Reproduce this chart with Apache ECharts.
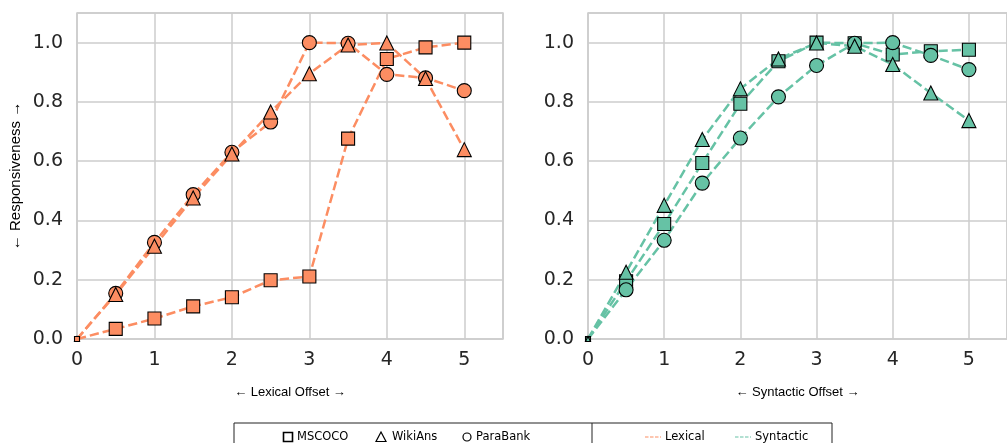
<!DOCTYPE html>
<html>
<head>
<meta charset="utf-8">
<script src="https://cdn.jsdelivr.net/npm/echarts@6/dist/echarts.min.js"></script>
<style>
html,body{margin:0;padding:0;background:#fff;}
#chart{width:1007px;height:443px;}
</style>
</head>
<body>
<div id="chart"></div>
<script>
// ---- data ----
const offsets = [0, 0.5, 1, 1.5, 2, 2.5, 3, 3.5, 4, 4.5, 5];
const datasets = ['MSCOCO', 'WikiAns', 'ParaBank'];
const yTicks = [0, 0.2, 0.4, 0.6, 0.8, 1.0];
const xTicks = [0, 1, 2, 3, 4, 5];

// Lexical offset responsiveness
const lexMSCOCO   = [0, 0.034, 0.069, 0.110, 0.141, 0.198, 0.211, 0.676, 0.945, 0.984, 1.0];
const lexWikiAns  = [0, 0.150, 0.313, 0.476, 0.624, 0.766, 0.895, 0.992, 0.999, 0.879, 0.639];
const lexParaBank = [0, 0.154, 0.326, 0.487, 0.630, 0.732, 1.0, 0.998, 0.893, 0.881, 0.838];

// Syntactic offset responsiveness
const synMSCOCO   = [0, 0.195, 0.388, 0.594, 0.794, 0.937, 1.0, 0.998, 0.960, 0.971, 0.976];
const synWikiAns  = [0, 0.225, 0.451, 0.673, 0.844, 0.945, 0.999, 0.988, 0.926, 0.830, 0.737];
const synParaBank = [0, 0.166, 0.333, 0.526, 0.678, 0.817, 0.923, 0.998, 1.0, 0.957, 0.909];

// ---- styling ----
const ORANGE = '#fc8d62';
const GREEN = '#66c2a5';
const GRIDC = '#cccccc';
const TXT = '#262626';
const symbols = { MSCOCO: 'rect', WikiAns: 'triangle', ParaBank: 'circle' };
const sizes = { MSCOCO: 13, WikiAns: 14, ParaBank: 14 };

function mk(name, values, color, axisIdx) {
  return {
    name: name,
    type: 'line',
    xAxisIndex: axisIdx,
    yAxisIndex: axisIdx,
    data: offsets.map((x, i) => [x, values[i]]),
    symbol: symbols[name],
    symbolSize: (v, p) => p.dataIndex === 0 ? 5 : sizes[name],
    showAllSymbol: true,
    clip: true,
    lineStyle: { color: color, width: 2.5, type: [9.25, 4] },
    itemStyle: { color: color, borderColor: '#000', borderWidth: 1.1, opacity: 1 },
    emphasis: { disabled: true },
    animation: false
  };
}

function xAxisCfg(gi, name) {
  return {
    gridIndex: gi, type: 'value', min: 0, max: 5.5, interval: 1,
    name: name, nameLocation: 'middle', nameGap: 47,
    nameTextStyle: { fontFamily: 'Liberation Sans', fontSize: 13, color: '#000' },
    axisLine: { show: false }, axisTick: { show: false },
    axisLabel: { fontFamily: 'DejaVu Sans', fontSize: 19, color: TXT, margin: 12, showMaxLabel: false,
                 formatter: v => String(v) },
    splitLine: { show: true, lineStyle: { color: GRIDC, width: 1.5 } }
  };
}
function yAxisCfg(gi, name) {
  return {
    gridIndex: gi, type: 'value', min: 0, max: 1.1, interval: 0.2,
    name: name, nameLocation: 'middle', nameGap: 54,
    nameTextStyle: { fontFamily: 'Liberation Sans', fontSize: 15, color: '#000' },
    axisLine: { show: false }, axisTick: { show: false },
    axisLabel: { fontFamily: 'DejaVu Sans', fontSize: 19, color: TXT, margin: 14, showMaxLabel: false,
                 formatter: v => v.toFixed(1) },
    splitLine: { show: true, lineStyle: { color: GRIDC, width: 1.5 } }
  };
}

// legend built from graphic elements
const LY = 437;
const legend = [
  { type: 'rect', shape: { x: 234, y: 423, width: 598, height: 30 }, style: { fill: '#fff', stroke: '#222', lineWidth: 1 } },
  { type: 'line', shape: { x1: 592, y1: 423, x2: 592, y2: 443 }, style: { stroke: '#222', lineWidth: 1 } },
  { type: 'rect', shape: { x: 283.5, y: LY - 4.5, width: 9, height: 9 }, style: { fill: 'none', stroke: '#000', lineWidth: 1.6 } },
  { type: 'text', style: { x: 297, y: LY, text: datasets[0], font: '11.5px "DejaVu Sans"', fill: '#000', verticalAlign: 'middle' } },
  { type: 'polygon', shape: { points: [[381, LY - 5], [376, LY + 4.5], [386, LY + 4.5]] }, style: { fill: 'none', stroke: '#000', lineWidth: 1.2 } },
  { type: 'text', style: { x: 392, y: LY, text: datasets[1], font: '11.5px "DejaVu Sans"', fill: '#000', verticalAlign: 'middle' } },
  { type: 'circle', shape: { cx: 467, cy: LY, r: 4 }, style: { fill: 'none', stroke: '#000', lineWidth: 1.2 } },
  { type: 'text', style: { x: 476, y: LY, text: datasets[2], font: '11.5px "DejaVu Sans"', fill: '#000', verticalAlign: 'middle' } },
  { type: 'line', shape: { x1: 645, y1: LY, x2: 661, y2: LY }, style: { stroke: ORANGE, lineWidth: 1.2, lineDash: [3.5, 1.5] } },
  { type: 'text', style: { x: 665, y: LY, text: 'Lexical', font: '11.5px "DejaVu Sans"', fill: '#000', verticalAlign: 'middle' } },
  { type: 'line', shape: { x1: 735, y1: LY, x2: 751, y2: LY }, style: { stroke: GREEN, lineWidth: 1.2, lineDash: [3.5, 1.5] } },
  { type: 'text', style: { x: 755, y: LY, text: 'Syntactic', font: '11.5px "DejaVu Sans"', fill: '#000', verticalAlign: 'middle' } }
];

const chart = echarts.init(document.getElementById('chart'), null, { renderer: 'canvas' });
chart.setOption({
  backgroundColor: '#fff',
  animation: false,
  grid: [
    { left: 77, top: 13, width: 426, height: 326, show: true, borderColor: GRIDC, borderWidth: 1.5, backgroundColor: 'transparent' },
    { left: 588, top: 13, width: 426, height: 326, show: true, borderColor: GRIDC, borderWidth: 1.5, backgroundColor: 'transparent' }
  ],
  xAxis: [xAxisCfg(0, '\u2190 Lexical Offset \u2192'), xAxisCfg(1, '\u2190 Syntactic Offset \u2192')],
  yAxis: [yAxisCfg(0, '\u2190 Responsiveness \u2192'), yAxisCfg(1, '')],
  series: [
    mk('ParaBank', lexParaBank, ORANGE, 0),
    mk('WikiAns', lexWikiAns, ORANGE, 0),
    mk('MSCOCO', lexMSCOCO, ORANGE, 0),
    mk('MSCOCO', synMSCOCO, GREEN, 1),
    mk('ParaBank', synParaBank, GREEN, 1),
    mk('WikiAns', synWikiAns, GREEN, 1)
  ],
  graphic: legend
});
</script>
</body>
</html>
